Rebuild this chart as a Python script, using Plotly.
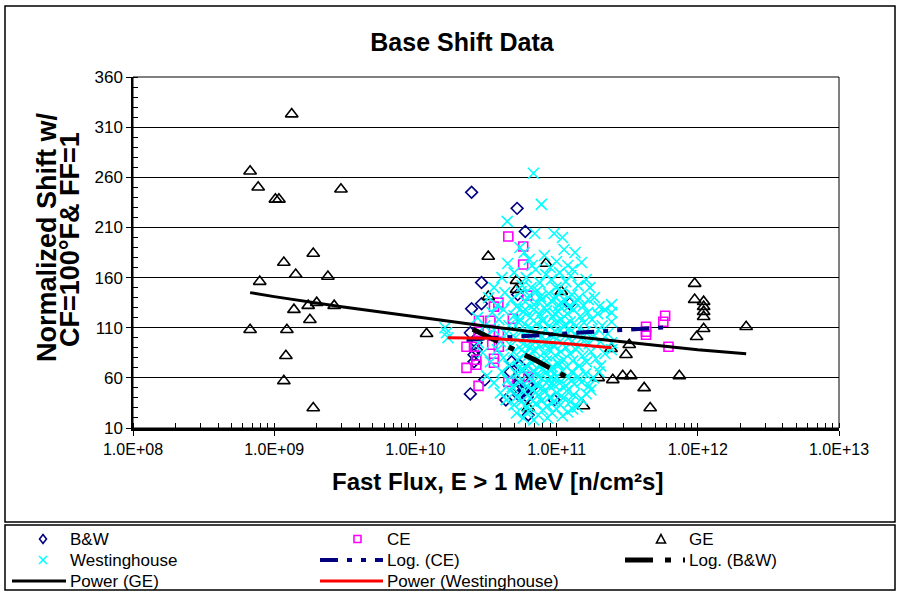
import plotly.graph_objects as go

# ---------------- data ----------------
bw_flux = [2.5e10, 5.25e10, 6.0e10, 2.94e10, 2.94e10, 2.5e10, 2.45e10, 1.24e11, 2.6e10, 3.1e10,
           2.45e10, 4.37e10, 5.2e10, 5.35e10, 6.3e10, 6.2e10, 6.2e10, 6.3e10, 4.7e10, 9.6e10,
           2.7e10, 2.7e10, 2.6e10, 5.5e10, 5.3e10, 4.8e10, 5.2e10, 5.9e10, 6.6e10, 5.4e10]
bw_shift = [245, 229, 206, 155, 134, 129, 105, 134, 83, 58,
            44, 38, 48, 56, 66, 53, 41, 23, 66, 38,
            95, 88, 76, 72, 143, 76, 52, 47, 50, 43]

ce_flux = [4.55e10, 5.8e10, 5.8e10, 6.2e10, 3.87e10, 3.6e10, 2.82e10, 3.4e10, 4.9e10, 2.8e10,
           3.9e10, 2.3e10, 2.6e10, 3.5e10, 3.9e10, 2.7e10, 2.7e10, 2.3e10, 3.6e10, 3.6e10,
           2.8e10, 4.55e10, 6.3e10, 4.3e11, 4.3e11, 4.3e11, 5.87e11, 5.7e11, 6.2e11, 3.6e10]
ce_shift = [201, 191, 173, 142, 135, 131, 117, 117, 119, 106,
            105, 91, 91, 93, 91, 78, 73, 70, 79, 75,
            52, 56, 61, 111, 106, 103, 122, 116, 91, 106]

ge_flux = [6.75e8, 7.7e8, 1.02e9, 1.08e9, 1.33e9, 2.97e9, 1.89e9, 1.17e9, 1.42e9, 7.9e8,
           2.4e9, 2.0e9, 1.74e9, 2.66e9, 1.38e9, 1.79e9, 6.75e8, 1.23e9, 1.21e9, 1.17e9,
           1.89e9, 1.2e10, 3.28e10, 8.4e10, 5.2e10, 3.28e10, 5.2e10, 1.08e11, 2.43e11, 3.27e11,
           3.1e11, 1.97e11, 2.5e11, 2.94e11, 3.35e11, 4.17e11, 4.6e11, 7.4e11, 1.55e11, 6.3e10,
           9.5e11, 9.5e11, 1.1e12, 1.1e12, 1.1e12, 1.1e12, 1.1e12, 9.8e11, 2.2e12]
ge_shift = [266, 250, 238, 238, 323, 248, 184, 175, 163, 156,
            161, 135, 132, 132, 128, 118, 108, 108, 82, 57,
            30, 104, 181, 174, 157, 141, 148, 146, 89, 93,
            83, 60, 58, 62, 62, 50, 30, 62, 32, 30,
            154, 138, 136, 131, 126, 121, 109, 101, 111]

w_flux = [
    6.85e10,
    7.8e10, 4.47e10, 7.0e10, 9.6e10, 1.1e11,
    5.9e10, 4.5e10, 5.5e10, 6.4e10, 8.2e10, 1.0e11, 1.2e11, 1.5e11, 1.35e11, 9.0e10, 6.7e10, 1.13e11,
    4.1e10, 5.0e10, 5.7e10, 6.1e10, 7.1e10, 7.6e10, 8.4e10, 9.2e10, 9.9e10, 1.05e11, 1.16e11, 1.26e11,
    1.42e11, 1.62e11, 1.72e11, 1.3e11, 3.6e10, 6.6e10,
    3.3e10, 3.8e10, 4.3e10, 4.8e10, 5.2e10, 5.6e10, 6.0e10, 6.4e10, 6.9e10, 7.3e10, 7.8e10, 8.2e10,
    8.8e10, 9.3e10, 9.8e10, 1.04e11, 1.09e11, 1.15e11, 1.22e11, 1.28e11, 1.36e11, 1.44e11, 1.55e11,
    1.68e11, 1.85e11, 2.45e11, 2.0e11,
    2.75e10, 3.1e10, 3.5e10, 3.9e10, 4.2e10, 4.6e10, 5.0e10, 5.4e10, 5.8e10, 6.2e10, 6.5e10, 6.9e10,
    7.2e10, 7.6e10, 8.0e10, 8.5e10, 8.9e10, 9.4e10, 9.9e10, 1.03e11, 1.08e11, 1.13e11, 1.19e11,
    1.25e11, 1.32e11, 1.38e11, 1.47e11, 1.56e11, 1.66e11, 1.78e11, 1.95e11, 2.2e11, 2.45e11, 2.45e11,
    2.1e11, 1.62e10,
    1.66e10, 1.7e10, 2.8e10, 3.2e10, 3.6e10, 4.0e10, 4.4e10, 4.75e10, 5.1e10, 5.45e10, 5.8e10, 6.1e10,
    6.45e10, 6.8e10, 7.1e10, 7.5e10, 7.9e10, 8.3e10, 8.7e10, 9.1e10, 9.6e10, 1.0e11, 1.05e11, 1.1e11,
    1.16e11, 1.22e11, 1.28e11, 1.35e11, 1.42e11, 1.5e11, 1.6e11, 1.7e11, 1.82e11, 1.98e11, 2.05e11,
    2.3e11, 2.45e11,
    3.0e10, 3.4e10, 3.8e10, 4.2e10, 4.6e10, 4.95e10, 5.3e10, 5.65e10, 5.95e10, 6.3e10, 6.65e10, 7.0e10,
    7.35e10, 7.7e10, 8.1e10, 8.5e10, 8.9e10, 9.3e10, 9.75e10, 1.02e11, 1.07e11, 1.12e11, 1.18e11,
    1.24e11, 1.3e11, 1.37e11, 1.45e11, 1.53e11, 1.63e11, 1.75e11, 1.9e11, 2.05e11, 2.2e11, 2.45e11,
    3.2e10, 3.6e10, 4.1e10, 4.5e10, 4.85e10, 5.2e10, 5.5e10, 5.85e10, 6.15e10, 6.5e10, 6.85e10, 7.2e10,
    7.55e10, 7.95e10, 8.35e10, 8.75e10, 9.2e10, 9.6e10, 1.0e11, 1.05e11, 1.1e11, 1.16e11, 1.22e11,
    1.28e11, 1.34e11, 1.42e11, 1.5e11, 1.6e11, 1.7e11, 1.82e11, 2.0e11,
    4.0e10, 4.4e10, 4.7e10, 5.0e10, 5.3e10, 5.6e10, 5.9e10, 6.2e10, 6.5e10, 6.8e10, 7.1e10, 7.45e10,
    7.8e10, 8.2e10, 8.6e10, 9.0e10, 9.5e10, 1.0e11, 1.06e11, 1.12e11, 1.18e11, 1.25e11, 1.32e11,
    1.4e11, 1.5e11, 1.62e11, 1.75e11,
    5.2e10, 5.8e10, 6.3e10, 6.9e10, 7.4e10, 8.0e10, 8.6e10, 9.3e10, 1.0e11, 1.1e11, 1.2e11, 1.3e11,
    5.5e10, 6.0e10, 6.6e10, 7.2e10, 7.7e10, 8.3e10, 8.9e10, 9.7e10, 1.04e11, 1.15e11,
    5.4e10, 6.0e10, 6.7e10, 7.3e10, 7.9e10, 8.5e10, 9.1e10, 9.8e10, 1.07e11, 1.17e11, 1.27e11,
]
w_shift = [
    264,
    233, 216, 204, 204, 200,
    185, 174, 190, 178, 182, 176, 172, 175, 185, 170, 172, 188,
    160, 165, 152, 160, 168, 155, 163, 158, 150, 165, 156, 162,
    152, 158, 150, 168, 150, 150,
    140, 132, 145, 138, 131, 146, 136, 142, 133, 147, 138, 130,
    144, 136, 141, 132, 146, 137, 131, 143, 135, 140, 132,
    138, 140, 133, 131,
    120, 112, 125, 118, 128, 112, 122, 115, 126, 111, 120, 128,
    114, 123, 117, 127, 112, 121, 115, 126, 118, 111, 124,
    116, 128, 112, 121, 115, 125, 118, 124, 128, 116, 125,
    112, 110,
    105, 100, 95, 102, 108, 96, 104, 92, 100, 108, 94, 102,
    90, 98, 106, 93, 101, 108, 95, 103, 91, 99, 107, 94,
    102, 109, 96, 104, 91, 99, 106, 94, 101, 108, 96,
    104, 95,
    85, 76, 88, 80, 72, 86, 78, 88, 71, 82, 75, 87,
    79, 72, 85, 77, 88, 71, 82, 75, 86, 78, 71,
    84, 77, 88, 72, 82, 76, 86, 79, 72, 84, 88,
    62, 55, 66, 58, 51, 64, 56, 68, 52, 60, 67, 54,
    62, 51, 65, 57, 68, 53, 61, 55, 67, 52, 60,
    66, 54, 61, 56, 64, 52, 60, 66,
    45, 38, 47, 33, 42, 36, 46, 31, 40, 48, 34, 43,
    37, 46, 32, 41, 36, 45, 33, 40, 47, 36, 43,
    31, 39, 44, 48,
    25, 20, 27, 18, 23, 28, 20, 25, 29, 22, 26, 29,
    118, 84, 109, 63, 141, 95, 52, 124, 73, 113,
    70, 128, 93, 52, 117, 82, 61, 106, 135, 90, 57,
]

# trendlines
log_ce_flux = [2.3e10, 1.0e11, 6.0e11]
log_ce_shift = [98, 103.6, 110.5]
log_bw_flux = [2.55e10, 4.0e10, 7.0e10, 1.245e11]
log_bw_shift = [108.5, 95, 78, 59]
pow_ge_flux = [6.75e8, 1e9, 3e9, 1e10, 3e10, 1e11, 3e11, 1e12, 2.2e12]
pow_ge_shift = [145, 141, 131, 121, 112, 103, 96, 88, 84]
pow_w_flux = [1.69e10, 3.4e10, 1.1e11, 2.45e11]
pow_w_shift = [100, 99.4, 94.5, 90]

x_tickvals = [1e8, 1e9, 1e10, 1e11, 1e12, 1e13]
x_ticktext = ["1.0E+08", "1.0E+09", "1.0E+10", "1.0E+11", "1.0E+12", "1.0E+13"]
y_tickvals = [10, 60, 110, 160, 210, 260, 310, 360]

FONT = "Liberation Sans, Arial, sans-serif"
NAVY, MAGENTA, CYAN, RED = "#000080", "#FF00FF", "#00FFFF", "#FF0000"
DASH_CE = "18px,9px,5px,9px,5px,9px"
DASH_BW = "28px,12px,6px,12px"

fig = go.Figure()
fig.add_trace(go.Scatter(x=bw_flux, y=bw_shift, mode="markers", name="B&W",
                         marker=dict(symbol="diamond-open", size=9, color=NAVY,
                                     line=dict(width=1.6, color=NAVY))))
fig.add_trace(go.Scatter(x=ce_flux, y=ce_shift, mode="markers", name="CE",
                         marker=dict(symbol="square-open", size=9, color=MAGENTA,
                                     line=dict(width=1.6, color=MAGENTA))))
fig.add_trace(go.Scatter(x=ge_flux, y=ge_shift, mode="markers", name="GE",
                         marker=dict(symbol="triangle-up-open", size=11, color="black",
                                     line=dict(width=1.6, color="black"))))
fig.add_trace(go.Scatter(x=w_flux, y=w_shift, mode="markers", name="Westinghouse",
                         marker=dict(symbol="x-thin", size=11, color=CYAN,
                                     line=dict(width=1.6, color=CYAN))))
fig.add_trace(go.Scatter(x=log_ce_flux, y=log_ce_shift, mode="lines", name="Log. (CE)",
                         line=dict(color=NAVY, width=4, dash=DASH_CE)))
fig.add_trace(go.Scatter(x=log_bw_flux, y=log_bw_shift, mode="lines", name="Log. (B&W)",
                         line=dict(color="black", width=5, dash=DASH_BW)))
fig.add_trace(go.Scatter(x=pow_ge_flux, y=pow_ge_shift, mode="lines", name="Power (GE)",
                         line=dict(color="black", width=3)))
fig.add_trace(go.Scatter(x=pow_w_flux, y=pow_w_shift, mode="lines", name="Power (Westinghouse)",
                         line=dict(color=RED, width=3)))

L, R, T, B = 133, 61, 77, 165
W, H = 900, 593
pw, ph = W - L - R, H - T - B


def px(x):
    return (x - L) / pw


def py(y):
    return (H - B - y) / ph


fig.update_layout(
    width=W, height=H,
    margin=dict(l=L, r=R, t=T, b=B, pad=0, autoexpand=False),
    paper_bgcolor="white", plot_bgcolor="white",
    font=dict(family=FONT, size=15, color="black"),
    title=dict(text="Base Shift Data", x=462 / W, xref="container", xanchor="center",
               y=1 - 42 / H, yref="container", yanchor="middle",
               font=dict(family=FONT, size=25, weight="bold", color="black")),
    showlegend=False,
    xaxis=dict(type="log", range=[8, 13], tickvals=x_tickvals, ticktext=x_ticktext,
               showgrid=False, zeroline=False, showline=True, linecolor="black", linewidth=3,
               ticks="outside", ticklen=5, tickwidth=1, tickcolor="black",
               tickfont=dict(family=FONT, size=16),
               minor=dict(ticks="inside", ticklen=5, tickwidth=1, tickcolor="black",
                          dtick="D1", showgrid=False)),
    yaxis=dict(range=[10, 360], tickvals=y_tickvals, showgrid=True, gridcolor="black",
               gridwidth=1, zeroline=False, showline=True, linecolor="black", linewidth=1.5,
               ticks="outside", ticklen=5, tickwidth=1, tickcolor="black",
               tickfont=dict(family=FONT, size=17),
               minor=dict(ticks="inside", ticklen=5, tickwidth=1, tickcolor="black",
                          dtick=10, showgrid=False)),
)

# plot-area top/right border, chart frame, legend frame
fig.add_shape(type="rect", xref="paper", yref="paper", x0=0, x1=1, y0=0, y1=1,
              line=dict(color="black", width=1), layer="above")
fig.add_shape(type="rect", xref="paper", yref="paper", x0=px(5), x1=px(895), y0=py(522), y1=py(6),
              line=dict(color="black", width=1.5))
fig.add_shape(type="rect", xref="paper", yref="paper", x0=px(5), x1=px(895), y0=py(590), y1=py(525),
              line=dict(color="black", width=1.5))

# axis titles
fig.add_annotation(text="Normalized Shift w/", xref="paper", yref="paper",
                   x=px(30), y=py(237), textangle=-90, showarrow=False,
                   font=dict(family=FONT, size=27, weight="bold", color="black"))
fig.add_annotation(text="CF=100°F& FF=1", xref="paper", yref="paper",
                   x=px(53), y=py(240), textangle=-90, showarrow=False,
                   font=dict(family=FONT, size=27, weight="bold", color="black"))
fig.add_annotation(text="Fast Flux, E > 1 MeV [n/cm²s]", xref="paper", yref="paper",
                   x=px(497), y=py(497), showarrow=False,
                   font=dict(family=FONT, size=24, weight="bold", color="black"))

# ---------------- legend (drawn by hand, 3 columns) ----------------
rows = [539, 560, 581]
cols = [(12, 66), (320, 383), (625, 685)]


def leg_text(txt, c, r):
    fig.add_annotation(text=txt, xref="paper", yref="paper", x=px(cols[c][1] + 3), y=py(rows[r]),
                       xanchor="left", yanchor="middle", showarrow=False, borderpad=0,
                       font=dict(family=FONT, size=17, color="black"))


def path(points):
    return "M " + " L ".join(f"{px(a)},{py(b)}" for a, b in points) + " Z"


def leg_line(c, r, color, width, dash="solid"):
    fig.add_shape(type="line", xref="paper", yref="paper", x0=px(cols[c][0]), x1=px(cols[c][1]),
                  y0=py(rows[r]), y1=py(rows[r]), line=dict(color=color, width=width, dash=dash))


# B&W
cx, cy = (cols[0][0] + cols[0][1]) / 2 + 4, rows[0]
fig.add_shape(type="path", xref="paper", yref="paper",
              path=path([(cx, cy - 4.5), (cx + 3.5, cy), (cx, cy + 4.5), (cx - 3.5, cy)]),
              line=dict(color=NAVY, width=1.6))
leg_text("B&W", 0, 0)
# CE
cx, cy = (cols[1][0] + cols[1][1]) / 2 + 6, rows[0]
fig.add_shape(type="rect", xref="paper", yref="paper", x0=px(cx - 3.5), x1=px(cx + 3.5),
              y0=py(cy + 3.5), y1=py(cy - 3.5), line=dict(color=MAGENTA, width=1.6))
leg_text("CE", 1, 0)
# GE
cx, cy = (cols[2][0] + cols[2][1]) / 2 + 6, rows[0]
fig.add_shape(type="path", xref="paper", yref="paper",
              path=path([(cx, cy - 4.5), (cx + 4.5, cy + 4), (cx - 4.5, cy + 4)]),
              line=dict(color="black", width=1.6))
leg_text("GE", 2, 0)
# Westinghouse
cx, cy = (cols[0][0] + cols[0][1]) / 2 + 4, rows[1]
for sgn in (1, -1):
    fig.add_shape(type="line", xref="paper", yref="paper", x0=px(cx - 4), x1=px(cx + 4),
                  y0=py(cy - 4 * sgn), y1=py(cy + 4 * sgn), line=dict(color=CYAN, width=1.6))
leg_text("Westinghouse", 0, 1)
# trend lines
leg_line(1, 1, NAVY, 4, DASH_CE)
leg_text("Log. (CE)", 1, 1)
leg_line(2, 1, "black", 5, DASH_BW)
leg_text("Log. (B&W)", 2, 1)
leg_line(0, 2, "black", 3)
leg_text("Power (GE)", 0, 2)
leg_line(1, 2, RED, 3)
leg_text("Power (Westinghouse)", 1, 2)

fig.write_html("out.html")
